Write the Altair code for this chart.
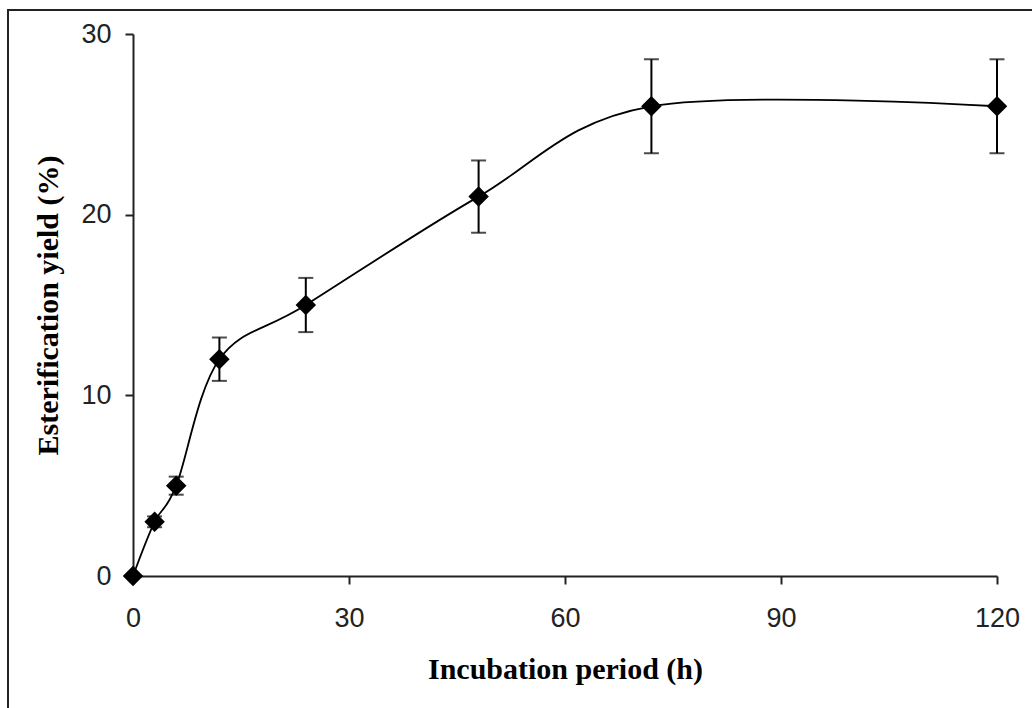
import altair as alt
import pandas as pd

# Incubation time (h), esterification yield (%) and its standard deviation
hours = [0, 3, 6, 12, 24, 48, 72, 120]
yield_pct = [0, 3, 5, 12, 15, 21, 26, 26]
sd = [0, 0.3, 0.5, 1.2, 1.5, 2.0, 2.6, 2.6]

x_ticks = [0, 30, 60, 90, 120]
y_ticks = [0, 10, 20, 30]

df = pd.DataFrame({"h": hours, "y": yield_pct, "sd": sd})
df["lo"] = df["y"] - df["sd"]
df["hi"] = df["y"] + df["sd"]

W, H = 864, 542
PAD = {"left": 133, "top": 34, "right": 1032 - 133 - W, "bottom": 708 - 34 - H}

x_scale = alt.Scale(domain=[0, 120], nice=False, zero=False)
y_scale = alt.Scale(domain=[0, 30], nice=False, zero=False)

x_axis = alt.Axis(
    values=x_ticks, title="Incubation period  (h)", grid=False, labelFlush=False,
    tickSize=8, labelPadding=21, titlePadding=23,
)
y_axis = alt.Axis(
    values=y_ticks, title="Esterification yield (%)", grid=False, labelFlush=False,
    tickSize=8, labelPadding=14, titlePadding=17,
)

base = alt.Chart(df)

# outer picture frame (extends past the right and bottom edges)
frame = base.mark_rect(fill="transparent", stroke="#222222", strokeWidth=2).encode(
    x=alt.value(-125), y=alt.value(-24),
    x2=alt.value(W + PAD["right"] + 40), y2=alt.value(H + PAD["bottom"] + 40),
)

err = base.mark_rule(color="black", strokeWidth=2).encode(
    x=alt.X("h:Q", scale=x_scale, axis=x_axis),
    y=alt.Y("lo:Q", scale=y_scale, axis=y_axis),
    y2="hi:Q",
)
cap_lo = base.mark_tick(color="black", thickness=2, size=15, orient="horizontal").encode(
    x=alt.X("h:Q", scale=x_scale), y=alt.Y("lo:Q", scale=y_scale)
)
cap_hi = base.mark_tick(color="black", thickness=2, size=15, orient="horizontal").encode(
    x=alt.X("h:Q", scale=x_scale), y=alt.Y("hi:Q", scale=y_scale)
)

curve = base.mark_line(color="black", strokeWidth=1.8, interpolate="cardinal").encode(
    x=alt.X("h:Q", scale=x_scale), y=alt.Y("y:Q", scale=y_scale)
)
points = base.mark_point(shape="diamond", filled=True, color="black", size=420, opacity=1).encode(
    x=alt.X("h:Q", scale=x_scale), y=alt.Y("y:Q", scale=y_scale)
)

chart = (
    alt.layer(frame, err, cap_lo, cap_hi, curve, points)
    .properties(width=W, height=H, padding=PAD, autosize=alt.AutoSizeParams(type="none"))
    .configure(background="white")
    .configure_view(stroke="transparent")
    .configure_axis(
        domainColor="#222222", domainWidth=2, tickColor="#222222", tickWidth=2,
        labelFont="Liberation Sans", labelFontSize=27, labelColor="#222222",
        titleFont="Liberation Serif", titleFontSize=30, titleFontWeight="bold",
        titleColor="black",
    )
)

chart.save("out.html", embed_options={"renderer": "svg", "actions": False})
